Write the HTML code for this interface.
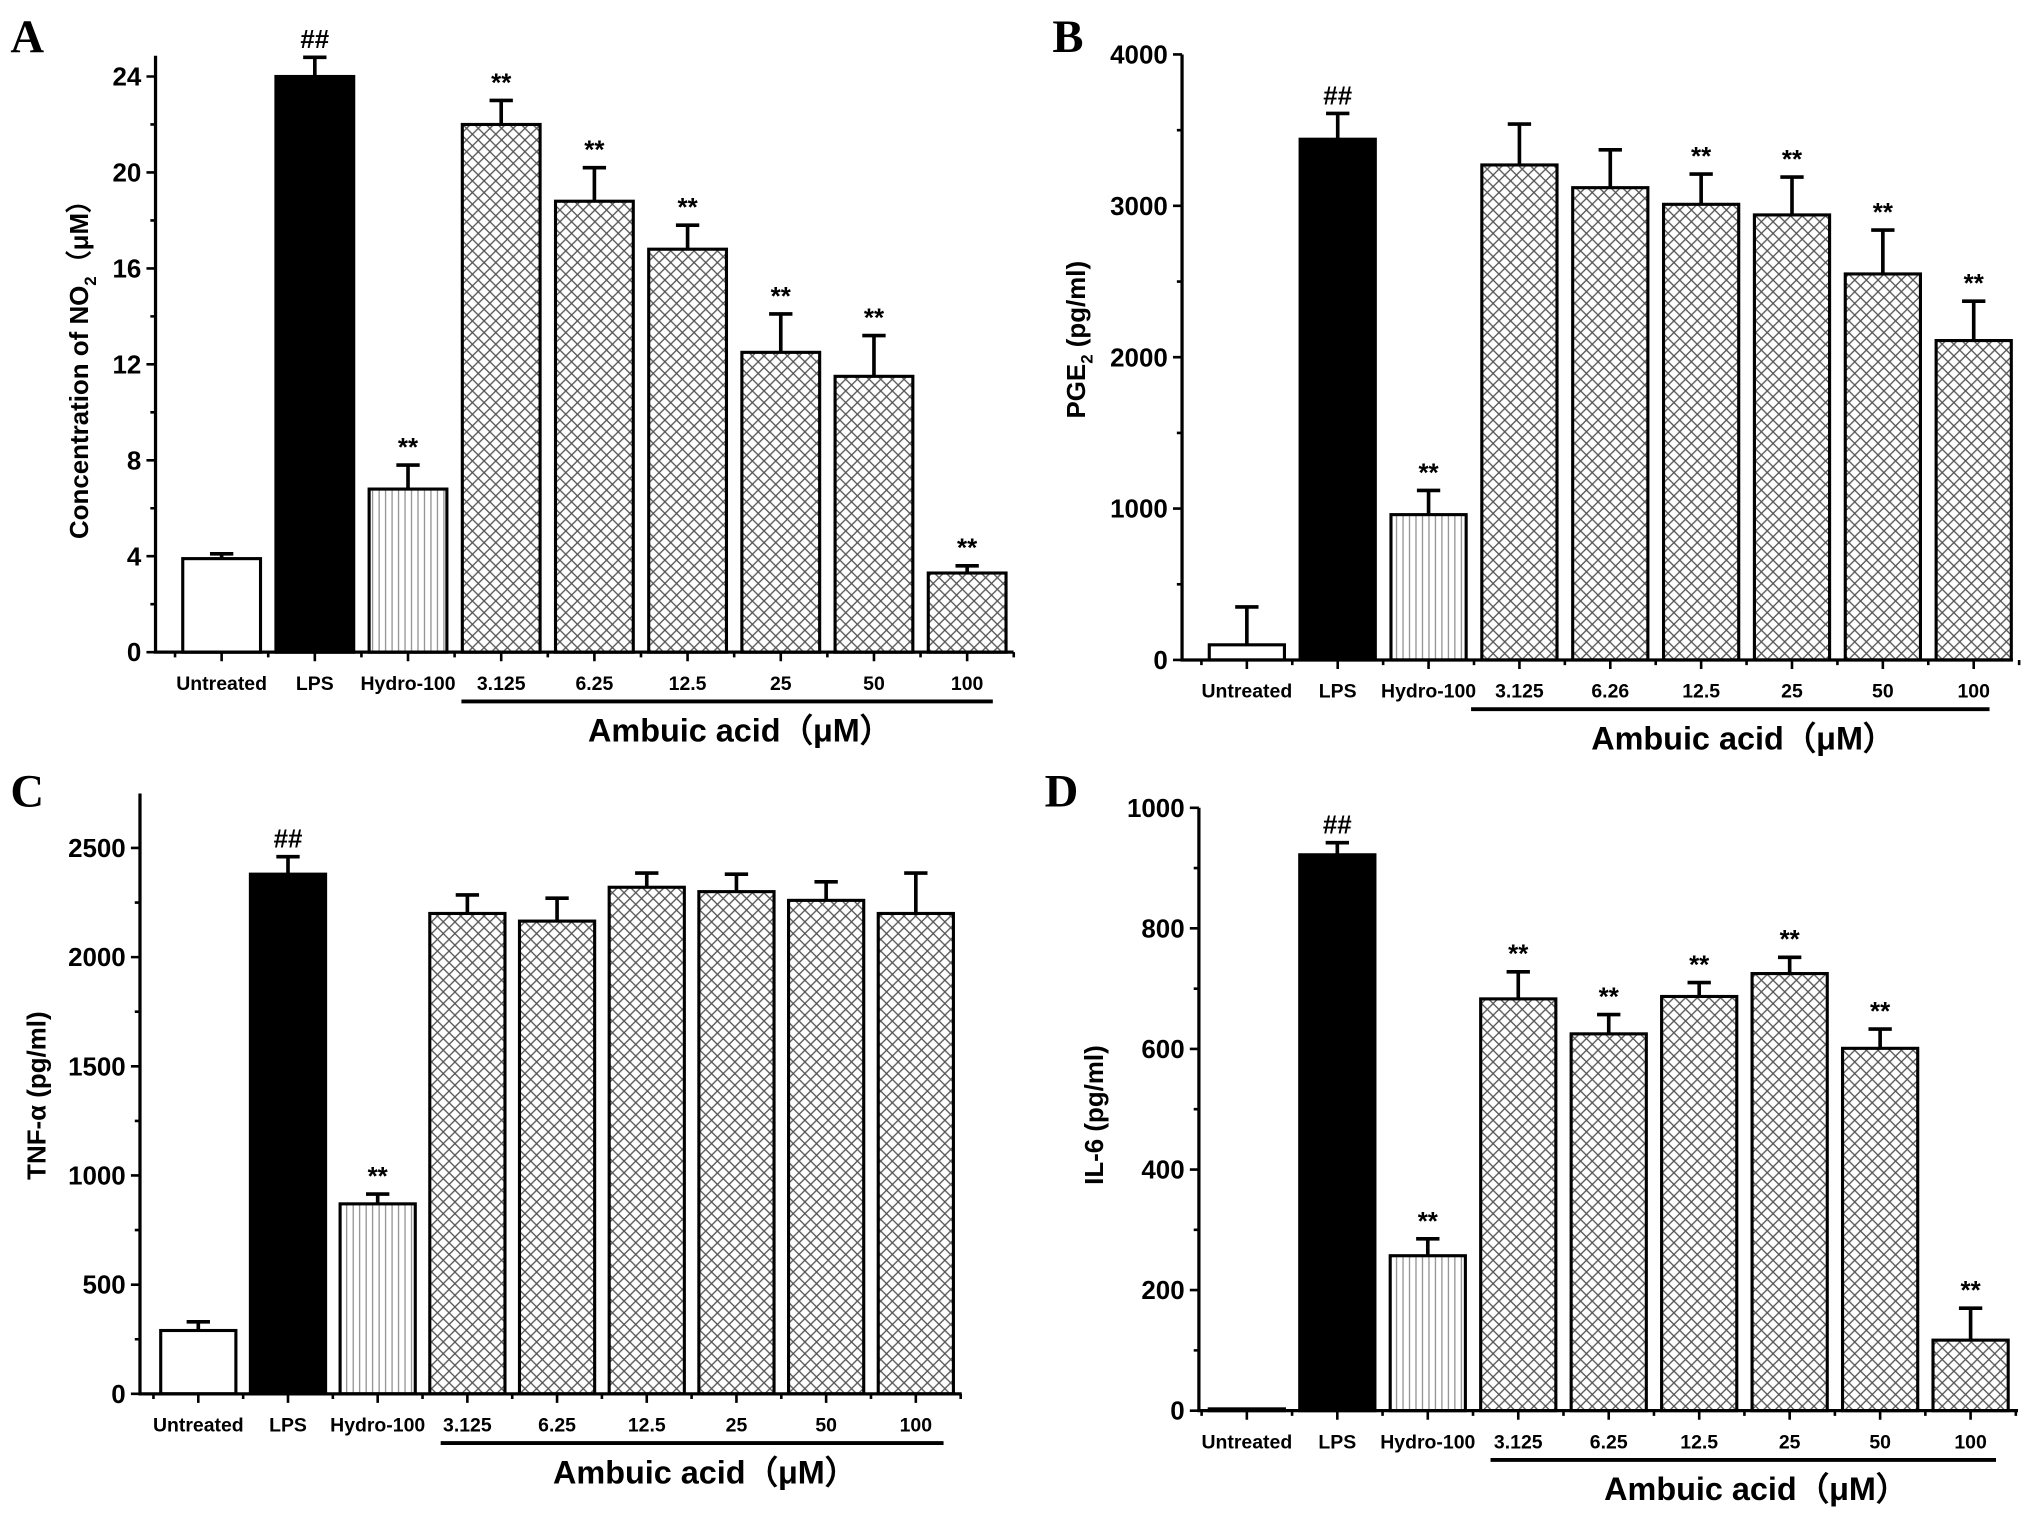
<!DOCTYPE html>
<html><head><meta charset="utf-8"><style>
html,body{margin:0;padding:0;background:#fff;}
svg{display:block;font-family:"Liberation Sans",Arial,sans-serif;}
.tk{font-weight:bold;font-size:20px;}
.xl{font-weight:bold;font-size:15px;}
.tt{font-weight:bold;font-size:20px;}
.am{font-weight:bold;font-size:25px;}
.pl{font-family:"Liberation Serif",serif;font-weight:bold;font-size:36px;}
.st{font-weight:bold;font-size:20px;}
</style></head><body>
<svg id="fig" width="2031" height="1517" viewBox="0 0 1567 1170" preserveAspectRatio="none" xmlns="http://www.w3.org/2000/svg">
<defs>
<pattern id="cross" patternUnits="userSpaceOnUse" width="9" height="9">
<rect width="9" height="9" fill="#fff"/>
<path d="M0,0 L9,9 M9,0 L0,9" stroke="#555" stroke-width="1"/>
</pattern>
<pattern id="vert" patternUnits="userSpaceOnUse" width="5" height="5">
<rect width="5" height="5" fill="#fff"/>
<path d="M2.5,0 L2.5,5" stroke="#777" stroke-width="0.8"/>
</pattern>
</defs>
</svg>
<script>
const categoriesA = ["Untreated","LPS","Hydro-100","3.125","6.25","12.5","25","50","100"];
const categoriesB = ["Untreated","LPS","Hydro-100","3.125","6.26","12.5","25","50","100"];
const valuesA = [3.9, 24, 6.8, 22, 18.8, 16.8, 12.5, 11.5, 3.3];
const errorsA = [0.2, 0.8, 1.0, 1.0, 1.4, 1.0, 1.6, 1.7, 0.3];
const marksA = ["", "##", "**", "**", "**", "**", "**", "**", "**"];
const ticksA = [0, 4, 8, 12, 16, 20, 24];
const valuesB = [100, 3440, 960, 3270, 3120, 3010, 2940, 2550, 2110];
const errorsB = [250, 170, 160, 270, 250, 200, 250, 290, 260];
const marksB = ["", "##", "**", "", "", "**", "**", "**", "**"];
const ticksB = [0, 1000, 2000, 3000, 4000];
const valuesC = [290, 2380, 870, 2200, 2165, 2320, 2300, 2260, 2200];
const errorsC = [40, 80, 45, 85, 105, 65, 80, 85, 185];
const marksC = ["", "##", "**", "", "", "", "", "", ""];
const ticksC = [0, 500, 1000, 1500, 2000, 2500];
const valuesD = [3, 922, 257, 683, 625, 687, 725, 601, 117];
const errorsD = [0, 20, 28, 45, 32, 23, 27, 32, 53];
const marksD = ["", "##", "**", "**", "**", "**", "**", "**", "**"];
const ticksD = [0, 200, 400, 600, 800, 1000];

const NS = "http://www.w3.org/2000/svg";
const svg = document.getElementById("fig");
function mk(tag, attrs, parent, text){
  const e = document.createElementNS(NS, tag);
  for (const k in attrs) e.setAttribute(k, attrs[k]);
  if (text !== undefined) e.textContent = text;
  (parent || svg).appendChild(e);
  return e;
}
const fills = ["#fff","#000","url(#vert)","url(#cross)","url(#cross)","url(#cross)","url(#cross)","url(#cross)","url(#cross)"];

function panel(p){
  const g = mk("g", {});
  
  
  const ymax = p.ticks[p.ticks.length-1];
  const ys = v => p.y0 - (v / ymax) * (p.y0 - p.yTop);
  const xs = i => p.cx0 + i * p.step;
  const pl = mk("text", {x:p.lx, y:p.ly, class:"pl"}, g, p.id);
  
  
  p.vals.forEach((v, i) => {
    const x = xs(i) - p.bw/2, y = ys(v);
    const r = mk("rect", {x:x, y:y, width:p.bw, height:Math.max(p.y0 - y, 1), fill:fills[i], stroke:"#000", "stroke-width":2.4}, g);
    
    
    const e = p.errs[i];
    if (e > 0) {
      const yt = ys(v + e);
      const eb = mk("path", {d:`M${xs(i)},${y} L${xs(i)},${yt} M${xs(i)-9},${yt} L${xs(i)+9},${yt}`, stroke:"#000", "stroke-width":2.8, fill:"none"}, g);
      
      
    }
    if (p.marks[i]) {
      const t = mk("text", {x:xs(i), y:ys(v + e) - 7, "text-anchor":"middle", class:"st"}, g, p.marks[i]);
      
      
    }
    const xl = mk("text", {x:xs(i), y:p.y0 + 29, "text-anchor":"middle", class:"xl"}, g, p.cats[i]);
    
    
  });
  const ax = mk("path", {d:`M${p.ax},${p.yTop - p.over} L${p.ax},${p.y0} L${p.axEnd},${p.y0}`, stroke:"#000", "stroke-width":2.5, fill:"none"}, g);
  
  
  let d = "";
  p.ticks.forEach((t, k) => {
    const y = ys(t);
    d += `M${p.ax-7},${y} L${p.ax},${y} `;
    if (k < p.ticks.length - 1) { const ym = ys(t + (p.ticks[1]-p.ticks[0])/2); d += `M${p.ax-4},${ym} L${p.ax},${ym} `; }
    const tl = mk("text", {x:p.ax - 11, y:y + 7, "text-anchor":"end", class:"tk"}, g, String(t));
    
    
  });
  for (let i = 0; i < p.vals.length; i++) {
    d += `M${xs(i)},${p.y0} L${xs(i)},${p.y0+7} `;
    d += `M${xs(i)-p.step/2},${p.y0} L${xs(i)-p.step/2},${p.y0+4} `;
  }
  d += `M${xs(p.vals.length-1)+p.step/2},${p.y0} L${xs(p.vals.length-1)+p.step/2},${p.y0+4} `;
  const tk = mk("path", {d:d, stroke:"#000", "stroke-width":2, fill:"none"}, g);
  
  
  const yt = mk("text", {x:0, y:0, transform:`translate(${p.tx},${p.ty}) rotate(-90)`, "text-anchor":"middle", class:"tt"}, g);
  
  
  yt.innerHTML = p.title;
  const ln = mk("line", {x1:p.lx1, x2:p.lx2, y1:p.y0 + 38, y2:p.y0 + 38, stroke:"#000", "stroke-width":3}, g);
  
  
  const am = mk("text", {x:(p.lx1+p.lx2)/2 + 10, y:p.y0 + 69, "text-anchor":"middle", class:"am"}, g, "Ambuic acid（μM）");
  
  
}

panel({id:"A", cats:categoriesA, vals:valuesA, errs:errorsA, marks:marksA, ticks:ticksA,
  ax:120, axEnd:782, y0:503, yTop:59, over:16, cx0:171, step:71.9, bw:60,
  lx:8, ly:40, tx:68, ty:280, lx1:356, lx2:766,
  title:'Concentration of NO<tspan font-size="13" dy="6">2</tspan><tspan dy="-6">（μM）</tspan>'});
panel({id:"B", cats:categoriesB, vals:valuesB, errs:errorsB, marks:marksB, ticks:ticksB,
  ax:912, axEnd:1553, y0:509, yTop:42, over:0, cx0:962, step:70.1, bw:58,
  lx:812, ly:40, tx:837, ty:262, lx1:1135, lx2:1535,
  title:'PGE<tspan font-size="13" dy="6">2</tspan><tspan dy="-6"> (pg/ml)</tspan>'});
panel({id:"C", cats:categoriesA, vals:valuesC, errs:errorsC, marks:marksC, ticks:ticksC,
  ax:108, axEnd:742, y0:1075, yTop:654, over:42, cx0:153, step:69.2, bw:58,
  lx:8, ly:622, tx:35, ty:845, lx1:340, lx2:728,
  title:'TNF-α (pg/ml)'});
panel({id:"D", cats:categoriesB.map((c,i)=> i===4 ? "6.25" : c), vals:valuesD, errs:errorsD, marks:marksD, ticks:ticksD,
  ax:925, axEnd:1557, y0:1088, yTop:623, over:0, cx0:962, step:69.8, bw:58,
  lx:806, ly:622, tx:851, ty:860, lx1:1150, lx2:1540,
  title:'IL-6 (pg/ml)'});
</script>
</body></html>
